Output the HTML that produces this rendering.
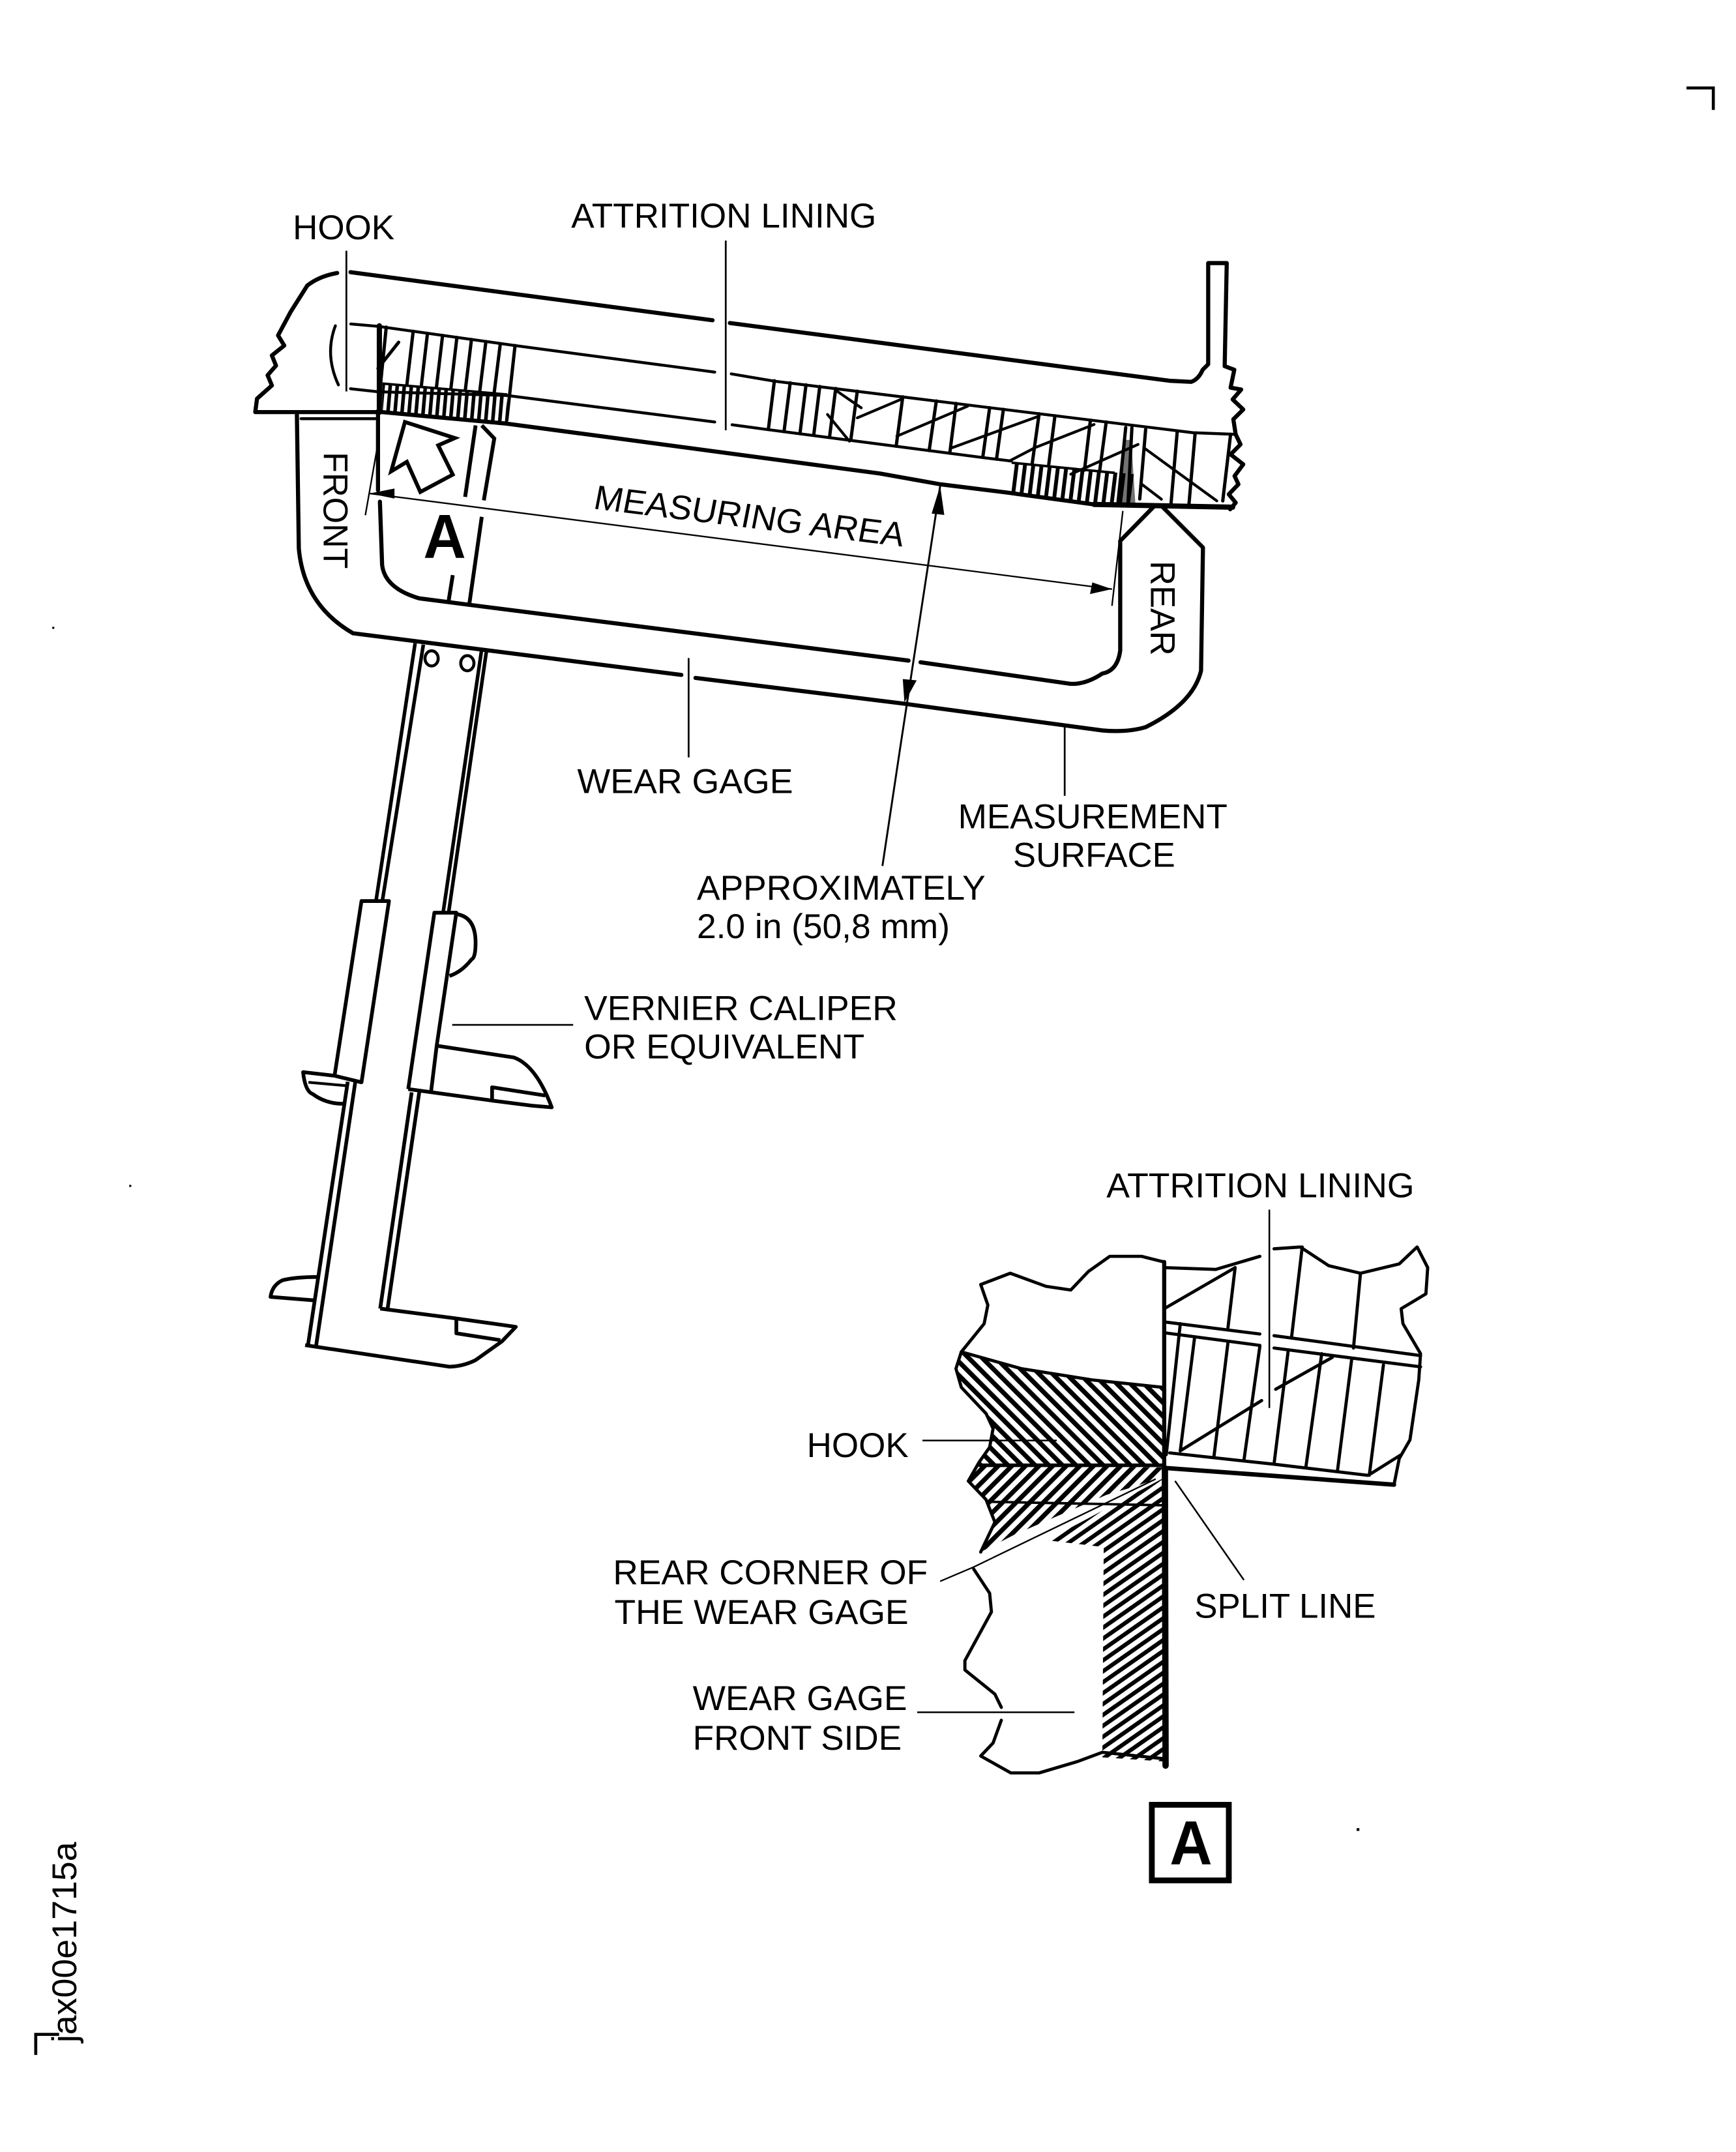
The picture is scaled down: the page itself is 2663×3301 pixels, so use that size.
<!DOCTYPE html>
<html lang="en">
<head>
<meta charset="utf-8">
<title>Wear gage measurement diagram</title>
<style>
html,body{margin:0;padding:0;background:#fff;width:2663px;height:3301px;overflow:hidden}
svg{display:block}
text{font-family:"Liberation Sans",Arial,sans-serif;font-size:25px;fill:#000}
</style>
</head>
<body>
<svg xmlns="http://www.w3.org/2000/svg" width="2663" height="3301" viewBox="0 0 1263 1565.6">
<defs>
<pattern id="pDL" patternUnits="userSpaceOnUse" width="5.1" height="10" patternTransform="rotate(5)"><rect width="2.6" height="10" fill="#000"/></pattern>
<pattern id="pDR" patternUnits="userSpaceOnUse" width="6" height="10" patternTransform="rotate(7)"><rect width="2.8" height="10" fill="#000"/></pattern>
<pattern id="pA" patternUnits="userSpaceOnUse" width="7" height="10" patternTransform="rotate(-45)"><rect width="3.4" height="10" fill="#000"/></pattern>
<pattern id="pB" patternUnits="userSpaceOnUse" width="7" height="10" patternTransform="rotate(45)"><rect width="3.4" height="10" fill="#000"/></pattern>
<pattern id="pC" patternUnits="userSpaceOnUse" width="6.5" height="10" patternTransform="rotate(55)"><rect width="3" height="10" fill="#000"/></pattern>
</defs>
<rect width="1263" height="1565.6" fill="#fff"/>

<!-- corner marks -->
<path d="M1227 64H1246.5V80M26 1495V1480H43" fill="none" stroke="#000" stroke-width="2.2"/>

<!-- MAIN ASSEMBLY heavy outlines -->
<g fill="none" stroke="#000" stroke-width="3" stroke-linejoin="round" stroke-linecap="round">
<path d="M255 198L518.4 233M531 235L850.8 277L866.6 277.8Q872 276 875 269L879 265V191.4H892.5L891 266.4L898 269L895.3 282L903 283.4L896.8 290.6L904.5 297.9L897.3 305L899 316L902.5 323.3L895.3 330.6L904.5 337.8L898.2 346.3L901 352.3L894 359.6L899 365.7L895 370.5"/>
<path d="M245.3 198.6Q232 201 223.5 207.8L211.4 227L202.3 244L206.8 251.4L197.8 258.6L200.8 266L194.7 273L197.8 280.4L187 290L185.7 299.8L278 299.8L368.7 308.2L640.3 344.5L684 352.3L733 358.4L796 367"/>
<path d="M796 367L896.8 369" stroke-width="3.8"/>
<path d="M216 302L217.4 399Q221 440 256.8 460.7L495.7 491M506 493.2L658.2 512L802 531.4Q820 533 833.5 529Q868 512 873.8 488L875.2 398.3L846 369M839 369L815 393.5V473.3Q813 488 802 490Q790 498 779 497.5L669.7 481.8M661 480.6L341.5 440L305 435.3Q280 428 278 411L276.4 365"/>
<path d="M275 299V356.6"/>
<path d="M276 237V300" stroke-width="3.8"/>
<path d="M374.7 251.4L368.7 305.8" stroke-width="2.4"/>
</g>
<g fill="none" stroke="#000" stroke-width="2.1" stroke-linejoin="round" stroke-linecap="round">
<path d="M244 237Q236 258 246.2 280"/>
<path d="M255.2 235.7L275 237.4L374.7 251.4L520 270.7M532 272L563.4 277.3L868 314.8L899 316"/>
<path d="M255 282.8L275 285L368.7 287.7L520 307M532.6 309L557.6 312.4L715.7 333L735.8 335.4"/>
<path d="M219 304.6L273 304.6"/>
</g>

<!-- left hatch -->
<g stroke="#000" stroke-width="2.4" fill="none" stroke-linecap="round">
<path d="M281 238L277 278M300.6 241L296 280M311 242.5L306.5 281M322 244L317.5 282M332.4 245.5L328 283M343 247L338.5 284M353.5 248.5L349 285M364 250L359.5 286M275 268L290 249"/>
</g>
<polygon points="278,279 369,287 368,308 278,300" fill="url(#pDL)"/>
<path d="M278 279L369 287" stroke="#000" stroke-width="1.8" fill="none"/>

<!-- right lining hatch -->
<g stroke="#000" stroke-width="2.4" fill="none" stroke-linecap="round">
<path d="M563.4 277L559 312.4M574.9 278.5L570.4 314M586.4 280L582 315.5M596.4 281.2L592 316.7M608 282.6L603.5 318.2M623.7 284.6L619 320M656.8 288.7L652 324.6M681.2 291.7L676 327.8M695.6 293.5L691 329.7M720 296.6L715 332.7M730 297.8L725 334M756 301L751 337M767.5 302.5L763 338M793.3 305.7L789 342M804.8 307L800 343M856.5 313.6L852 366M869.5 315L865 367M895.3 316L889.6 364.4M819 311L813.4 367M823.5 311L820.6 367M833.5 312.4L829.2 363" />
<path d="M623.7 304L655.4 290.6M652.5 317.3L704 295.5M692.7 325.7L756 302.7M734.4 335.4L753 325.7L796 308.8M779 345L828 323.3M832.1 325.7L885.3 364.4M830.7 352.3L845 363.2M602 301.5L618 321M609 284.6L626.6 296.7" stroke-width="2"/>
</g>
<polygon points="736,336.6 825,345 822,367 796,366.5 733,358.4" fill="url(#pDR)"/>
<path d="M736 336.6L811 344" stroke="#000" stroke-width="1.8" fill="none"/>
<path d="M817 320L823 320L826 366L812 366Z" fill="#000" opacity=".55"/>

<!-- view arrow -->
<polygon points="294.6,307 330.9,318.7 318.8,324 329.4,345.3 305.8,357.9 296,336 284.6,342.9" fill="#fff" stroke="#000" stroke-width="2.8" stroke-linejoin="miter"/>

<!-- dashed caliper behind -->
<g fill="none" stroke="#000" stroke-width="2.8">
<path d="M346 309.5L338.4 361.5M350.5 309.5L359.6 319L352 364M350.5 376L341.5 439M329.4 418.4L326.3 437.7"/>
</g>

<text x="308" y="406" style="font-size:45.5px;font-weight:bold" textLength="31" lengthAdjust="spacingAndGlyphs">A</text>

<!-- dimension lines -->
<g fill="none" stroke="#000" stroke-width="1.1">
<path d="M268.9 359L809 428.6"/>
<path d="M274.3 326.4L265.8 374.8M816.9 371.7L809 440.7"/>
</g>
<path d="M684 353.5L655 543.5L642 630" fill="none" stroke="#000" stroke-width="1.4"/>
<polygon points="268.9,359 287,355.4 287,362.7" fill="#000"/>
<polygon points="809,428.6 794.7,423.7 793,432.2" fill="#000"/>
<polygon points="684,353.5 677.8,373.6 687,374.6" fill="#000"/>
<polygon points="658,511 656.8,494 666.9,495" fill="#000"/>

<!-- leaders -->
<g fill="none" stroke="#000" stroke-width="1.3">
<path d="M252 182.4V284.8M528 175V313M501 478.7V551M774.6 527.8V579M329 745.6H417"/>
</g>

<!-- screws -->
<g fill="none" stroke="#000" stroke-width="2.2">
<ellipse cx="314" cy="479" rx="4.8" ry="5.5"/>
<ellipse cx="340" cy="482.5" rx="4.8" ry="5.5"/>
</g>

<!-- upper bars -->
<g fill="none" stroke="#000" stroke-width="2.6" stroke-linejoin="round">
<path d="M302 468L273.4 656.5M308 469L278 656.5M350.5 472L322.4 663.8M354 473L326.4 663.8"/>
</g>
<!-- CALIPER -->
<g fill="none" stroke="#000" stroke-width="2.7" stroke-linejoin="round" transform="translate(0,-1)">
<path d="M243.4 783.6L263 656.5H283L263 788.4L243.4 783.6L220.5 781Q222 795 227.6 797Q237 804 249.7 804"/>
<path d="M224.4 788.4L251.3 790.8" stroke-width="2"/>
<path d="M297 793.3L316 665H332L317.7 761.8L313.7 794.5"/>
<path d="M332 666Q346 668 346 686.8Q346 698 343 699Q336 708 327 711" />
<path d="M317.7 761.8L373.8 770.3Q390 776 401.4 806.6L387.2 805.4L358 801.7V792L396.7 798M358 801.7L297 793.3"/>
<path d="M253 788L224 980M258.5 788L230 980M299.5 795.7L276.6 953M305 795.7L282 953"/>
<path d="M222 979.6L327 995.3Q337 995 346 990.5L365 977L375.3 966.3L332 960.2L276.6 953"/>
<path d="M332 960V971L364 976"/>
<path d="M231.6 930Q215 930 205.5 932.4Q198 936 196.8 944.5L228.4 947"/>
</g>

<g transform="translate(0,-1.5)">
<!-- DETAIL A hatching -->
<polygon points="699.4,985 743,997 794.5,1005.4 846,1010.8 846,1068 712,1067 720,1054 722.5,1040.8 717.4,1029.9 699.4,1010.8 695.5,997.2" fill="url(#pA)"/>
<polygon points="712,1068 846,1069 840,1078 805,1090 738,1118 713.5,1130.6 723.8,1108.9 717.4,1092.5 704.5,1079" fill="url(#pB)"/>
<polygon points="761,1122 846,1077 847,1283 802,1280 803,1127" fill="url(#pC)"/>
<polygon points="846,1077 805,1089 738,1118 713,1132 761,1122.5" fill="#fff"/>
<path d="M712 1067.5H846" stroke="#000" stroke-width="2.6"/>
<path d="M717.4 1094L846 1096.6" stroke="#000" stroke-width="1.8"/>
<path d="M684 1151.9L708.4 1141.5L840.8 1077.5" fill="none" stroke="#000" stroke-width="1.1"/>

<!-- DETAIL A outlines -->
<g fill="none" stroke="#000" stroke-width="2.3" stroke-linejoin="round" stroke-linecap="round">
<path d="M847 919.6L830.5 915.5L807.4 915.5L792 926.4L779 940L761 937.3L735 927.8L713.5 936L718.7 950.9L716 964.5L699.4 985L695.5 997.2L699.4 1010.8L717.4 1029.9L722.5 1040.8L720 1054.4L712.3 1065.3L704.5 1079L717.4 1092.5L723.8 1108.9L713.5 1130.6"/>
<path d="M699.4 985L743 997.2L794.5 1005.4L845.9 1010.8"/>
<path d="M708.4 1143L720 1160.6L721.3 1174.2L702 1209.6L702 1216.4L723.8 1234L728.5 1243.6M728.5 1253L722.5 1269.5L713.5 1279L735.4 1291.3L756 1291.3L784 1283L802 1276.3L847 1281"/>
<path d="M847 923.7L884.5 925L916.6 915.5M926.9 910L946 908.7L966.7 922.3L989.8 927.8L1018 921L1031 908.7L1038.7 923.7L1037.4 942.8L1019.4 953.6L1020.7 964.5L1033.5 986.3L1032.2 1005.4L1025.8 1049L1018 1062.6L1014.2 1081.6"/>
<path d="M847 963.2L916.6 972M926.9 973.2L1033.5 987.7M848.5 971.3L916.6 980.3M926.9 982.2L1033.5 995.9"/>
<path d="M851 1058.5L925.6 1066.6L995 1074.8"/>
<path d="M898.6 923.7L893.4 967.3M947.4 908.7L939.7 974M989.8 927.8L984.7 982.2M858.7 964.5L848.5 1059.8M869 975.4L858.7 1057M893.4 978.2L883.2 1061.2M916.6 980.9L905 1064M937.1 985L926.9 1066.6M961.6 986.3L950 1069.4M983.4 990.4L973 1072M1006.5 994.5L996.2 1074.8"/>
<path d="M847 953.6L898.6 923.7M858.7 1057L917.9 1020.4M928.1 1012.2L969.3 989M997.5 1073.5L1019.4 1059.8"/>
<path d="M847 1069.4L1014.2 1081.6" stroke-width="3.2"/>
<path d="M847 919.6V1070" stroke-width="3"/>
<path d="M847.5 1070L848 1286" stroke-width="4.6"/>
</g>
<g fill="none" stroke="#000" stroke-width="1.2">
<path d="M923.5 881.5V1025.8M671.1 1049.5H768.8M667.3 1247.2H781.7M854.9 1078.9L905 1151"/>
</g>
</g>

<!-- Box A -->
<rect x="838" y="1313" width="56" height="55" fill="none" stroke="#000" stroke-width="4.2"/>
<text x="851" y="1356.5" style="font-size:45.5px;font-weight:bold" textLength="31" lengthAdjust="spacingAndGlyphs">A</text>

<!-- labels -->
<text x="213" y="174" textLength="74" lengthAdjust="spacingAndGlyphs">HOOK</text>
<text x="415.6" y="165.5" textLength="222" lengthAdjust="spacingAndGlyphs">ATTRITION LINING</text>
<text transform="translate(235.5,328.8) rotate(90)" textLength="85" lengthAdjust="spacingAndGlyphs">FRONT</text>
<text transform="translate(837.4,408) rotate(90)" textLength="69" lengthAdjust="spacingAndGlyphs">REAR</text>
<text transform="translate(431,370) rotate(7) skewX(-4)" textLength="227" lengthAdjust="spacingAndGlyphs">MEASURING AREA</text>
<text x="420" y="577" textLength="157" lengthAdjust="spacingAndGlyphs">WEAR GAGE</text>
<text x="697" y="602.5" textLength="196" lengthAdjust="spacingAndGlyphs">MEASUREMENT</text>
<text x="737" y="630.5" textLength="118" lengthAdjust="spacingAndGlyphs">SURFACE</text>
<text x="507" y="654.5" textLength="210" lengthAdjust="spacingAndGlyphs">APPROXIMATELY</text>
<text x="507" y="682.5" textLength="184" lengthAdjust="spacingAndGlyphs">2.0 in (50,8 mm)</text>
<text x="425" y="742" textLength="228" lengthAdjust="spacingAndGlyphs">VERNIER CALIPER</text>
<text x="425" y="770" textLength="204" lengthAdjust="spacingAndGlyphs">OR EQUIVALENT</text>
<text x="805" y="871" textLength="224" lengthAdjust="spacingAndGlyphs">ATTRITION LINING</text>
<text x="587" y="1060" textLength="74" lengthAdjust="spacingAndGlyphs">HOOK</text>
<text x="446" y="1152.5" textLength="229" lengthAdjust="spacingAndGlyphs">REAR CORNER OF</text>
<text x="447" y="1181.5" textLength="214" lengthAdjust="spacingAndGlyphs">THE WEAR GAGE</text>
<text x="504" y="1244" textLength="156" lengthAdjust="spacingAndGlyphs">WEAR GAGE</text>
<text x="504" y="1273" textLength="152" lengthAdjust="spacingAndGlyphs">FRONT SIDE</text>
<text x="869" y="1177" textLength="132" lengthAdjust="spacingAndGlyphs">SPLIT LINE</text>
<text transform="translate(55.5,1486) rotate(-90)" textLength="146" lengthAdjust="spacingAndGlyphs">jax00e1715a</text>

<!-- specks -->
<g fill="#000"><rect x="987" y="1330" width="2" height="2"/><rect x="94" y="862" width="1.5" height="1.5"/><rect x="38" y="456" width="1.5" height="1.5"/></g>
</svg>
</body>
</html>
